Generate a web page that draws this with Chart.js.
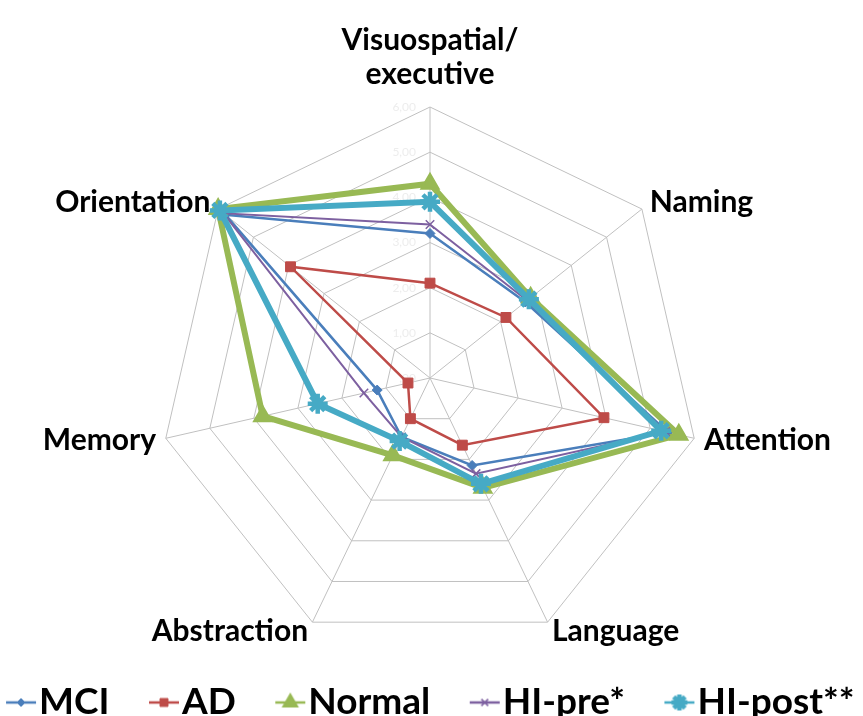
<!DOCTYPE html>
<html>
<head>
<meta charset="utf-8">
<script src="https://cdn.jsdelivr.net/npm/chart.js@4/dist/chart.umd.min.js"></script>
<style>
  html, body { margin: 0; padding: 0; background: #fff; }
  #wrap { width: 863px; height: 716px; }
</style>
</head>
<body>
<div id="wrap"><canvas id="myChart"></canvas></div>
<script>
// MoCA domain scores
var labels = [['Visuospatial/', 'executive'], 'Naming', 'Attention', 'Language', 'Abstraction', 'Memory', 'Orientation'];
var mci    = [3.2, 2.7, 5.4, 2.15, 1.45, 1.2, 5.8];
var ad     = [2.1, 2.15, 3.95, 1.65, 1.0, 0.5, 3.95];
var normal = [4.3, 2.85, 5.65, 2.7, 1.9, 3.8, 6.0];
var hiPre  = [3.4, 2.75, 5.35, 2.35, 1.45, 1.5, 5.85];
var hiPost = [3.9, 2.8, 5.25, 2.6, 1.55, 2.55, 5.95];
var tickValues = [0, 1, 2, 3, 4, 5, 6];

// layout of the web (center + radius) and label settings
var RADAR_CX = 430, RADAR_CY = 378, RADAR_R = 271;
var LABEL_GAP = 10;
var LEG_FS = 37;
var LEG_BOX = 52;

function tickText(v) {
  return v === 0 ? ',00' : v.toFixed(2).replace('.', ',');
}

// legend icon: short line with the marker, pushed to the right so it sits next to the text
function legendIcon(color, style, lw, r, pbw) {
  var c = document.createElement('canvas');
  c.width = LEG_BOX + LEG_FS;
  c.height = 28;
  var ctx = c.getContext('2d');
  var x1 = c.width - 33, x2 = c.width - 3, y = 14;
  ctx.strokeStyle = color;
  ctx.fillStyle = color;
  ctx.lineWidth = lw;
  ctx.beginPath();
  ctx.moveTo(x1, y);
  ctx.lineTo(x2, y);
  ctx.stroke();
  ctx.lineWidth = pbw;
  Chart.helpers.drawPoint(ctx, { pointStyle: style, radius: r, borderWidth: pbw, rotation: 0 }, (x1 + x2) / 2, y);
  return c;
}

var series = [
  { label: 'MCI',       data: mci,    color: '#4a7ebb', style: 'rectRot',  lw: 2.5, r: 5,  pbw: 1,   order: 5 },
  { label: 'AD',        data: ad,     color: '#be4b48', style: 'rect',     lw: 2.5, r: 7,  pbw: 1,   order: 4 },
  { label: 'Normal',    data: normal, color: '#98b954', style: 'triangle', lw: 6,   r: 10, pbw: 2,   order: 3 },
  { label: 'HI-pre*',   data: hiPre,  color: '#7d60a0', style: 'crossRot', lw: 2,   r: 6,  pbw: 1.5, order: 2 },
  { label: 'HI-post**', data: hiPost, color: '#46aac5', style: 'star',     lw: 6,   r: 10, pbw: 4.5, order: 1 }
];

// axis names + faint tick values, drawn under the data lines
var axisText = {
  id: 'axisText',
  beforeDatasetsDraw: function (chart) {
    var s = chart.scales.r;
    var ctx = chart.ctx;
    ctx.save();
    ctx.textBaseline = 'middle';

    ctx.font = '12px Lato';
    ctx.fillStyle = '#ededed';
    ctx.textAlign = 'right';
    tickValues.forEach(function (v) {
      ctx.fillText(tickText(v), s.xCenter - 14, s.yCenter - s.getDistanceFromCenterForValue(v));
    });

    ctx.font = 'bold 30px Lato';
    ctx.fillStyle = '#000';
    labels.forEach(function (lab, i) {
      var p = s.getPointPosition(i, s.drawingArea + LABEL_GAP);
      var lines = Array.isArray(lab) ? lab : [lab];
      if (Math.abs(p.x - s.xCenter) < 1) {
        ctx.textAlign = 'center';
        for (var k = 0; k < lines.length; k++) {
          ctx.fillText(lines[k], p.x, p.y - 23 - (lines.length - 1 - k) * 34);
        }
      } else {
        ctx.textAlign = p.x > s.xCenter ? 'left' : 'right';
        ctx.fillText(lines[0], p.x, p.y);
      }
    });
    ctx.restore();
  }
};

new Chart('myChart', {
  type: 'radar',
  plugins: [axisText],
  data: {
    labels: labels,
    datasets: series.map(function (s) {
      return {
        label: s.label,
        data: s.data,
        borderColor: s.color,
        backgroundColor: s.color,
        borderWidth: s.lw,
        pointStyle: s.style,
        pointRadius: s.r,
        pointBorderWidth: s.pbw,
        pointBackgroundColor: s.color,
        pointBorderColor: s.color,
        fill: false,
        order: s.order
      };
    })
  },
  options: {
    responsive: true,
    maintainAspectRatio: false,
    animation: false,
    layout: { padding: { top: 0, bottom: -15, left: -40, right: 0 } },
    elements: { line: { tension: 0 } },
    scales: {
      r: {
        min: 0,
        max: 6,
        afterBuildTicks: function (scale) {
          scale.ticks = tickValues.map(function (v) { return { value: v }; });
        },
        afterFit: function (scale) {
          scale.xCenter = RADAR_CX;
          scale.yCenter = RADAR_CY;
          scale.drawingArea = RADAR_R;
        },
        grid: { color: '#c0c0c0', lineWidth: 1 },
        angleLines: { color: '#c0c0c0', lineWidth: 1 },
        ticks: { display: false },
        pointLabels: { display: false }
      }
    },
    plugins: {
      tooltip: { enabled: false },
      legend: {
        position: 'bottom',
        labels: {
          usePointStyle: true,
          pointStyleWidth: LEG_BOX,
          boxHeight: 28,
          padding: 2,
          color: '#000',
          font: { family: 'Lato', size: LEG_FS, weight: 'bold' },
          generateLabels: function (chart) {
            return series.map(function (s, i) {
              return {
                text: s.label,
                pointStyle: legendIcon(s.color, s.style, 2.5, s.r * 0.8, s.pbw),
                fillStyle: s.color,
                strokeStyle: s.color,
                lineWidth: 0,
                hidden: false,
                datasetIndex: i
              };
            });
          }
        }
      }
    }
  }
});
</script>
</body>
</html>
